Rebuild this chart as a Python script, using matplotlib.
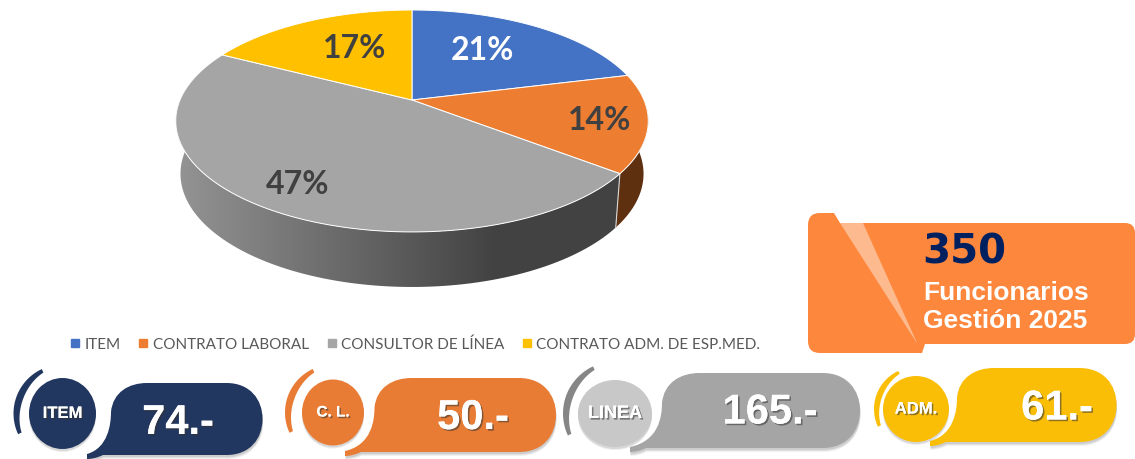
import numpy as np
import matplotlib
matplotlib.use("Agg")
import matplotlib.pyplot as plt
import matplotlib.patheffects as pe
from matplotlib.colors import LinearSegmentedColormap
from matplotlib.lines import Line2D
from matplotlib.path import Path
from matplotlib.patches import PathPatch, Polygon, Ellipse
from matplotlib.transforms import Affine2D

categories = ["ITEM", "CONTRATO LABORAL", "CONSULTOR DE LÍNEA",
              "CONTRATO ADM. DE ESP.MED."]
counts = [74, 50, 165, 61]
pie_colors = ["#4472c4", "#ed7d31", "#a5a5a5", "#ffc000"]
badge_names = ["ITEM", "C. L.", "LINEA", "ADM."]
title_number = "350"
title_lines = ["Funcionarios", "Gestión 2025"]

WIDTH, HEIGHT = 1135, 459
HEAD = "Liberation Sans"
BODY = "Lato"

# pie perspective, in pixels
CX, CY = 412, 100
RX, RY, PERSP = 232, 107, 0.189


def rim(turn):
    """Point of the pie top for a clockwise turn from 12 o'clock (radians)."""
    p = 1 / (1 + PERSP * np.cos(turn))
    return CX + RX * np.sin(turn) * p, CY - RY * np.cos(turn) * p


def lower(x, y):
    return CX + 0.98 * (x - CX), CY + 1.02 * (y - CY) + 52.4


def wall_outline(t0, t1):
    t = np.linspace(t0, t1, 120)
    x, y = rim(t)
    xb, yb = lower(x, y)
    return np.r_[x, xb[::-1]], np.r_[y, yb[::-1]]


def draw_pie(ax):
    edges = 2 * np.pi * np.cumsum([0] + counts) / sum(counts)

    # side of the orange slice
    x, y = wall_outline(np.pi / 2, edges[2])
    ax.fill(x, y, color="#5f3010", lw=0)

    # side of the grey slice, dark to the right
    x, y = wall_outline(edges[2], edges[3])
    wall = Polygon(np.c_[x, y], closed=True, transform=ax.transData,
                   fc="none", ec="none")
    ax.add_patch(wall)
    cmap = LinearSegmentedColormap.from_list(
        "wall", ["#949494", "#424242", "#424242"])
    im = ax.imshow(np.linspace(0, 1, 256)[None, :], cmap=cmap, aspect="auto",
                   extent=(176, 648 + 170, 290, 90), zorder=1)
    im.set_clip_path(wall)

    x0, y0 = rim(edges[2])
    x1, y1 = lower(x0, y0)
    ax.plot([x0, x1], [y0, y1], color="#d8d8d8", lw=0.8, zorder=2)

    for i in range(len(counts)):
        t = np.linspace(edges[i], edges[i + 1], 120)
        x, y = rim(t)
        ax.fill(np.r_[CX, x], np.r_[CY, y], fc=pie_colors[i], ec="white",
                lw=0.7, zorder=3)


def draw_pie_labels(ax):
    spots = [(482, 50), (600, 120), (298, 184), (355, 48)]
    total = sum(counts)
    for i, (x, y) in enumerate(spots):
        ax.text(x, y, f"{round(100 * counts[i] / total)}%", ha="center",
                va="center", fontsize=23, fontweight="bold", family=BODY,
                color="white" if i == 0 else "#404040", zorder=4)


def pill_path(x0, x1, y0, y1, tail_x):
    r = (y1 - y0) * 0.5
    verts = [
        (tail_x, y1 - 1),
        (x0 - 3, y1 - 7), (x0, y0 + r * 1.15), (x0, y0 + r * 0.8),
        (x0 + 2, y0 + r * 0.25), (x0 + r * 0.5, y0), (x0 + r, y0),
        (x1 - r, y0),
        (x1 - r * 0.35, y0), (x1, y0 + r * 0.45), (x1, y0 + r),
        (x1, y1 - r * 0.45), (x1 - r * 0.35, y1), (x1 - r, y1),
        (tail_x + 16, y1),
        (tail_x + 10, y1 + 3), (tail_x + 4, y1 + 4), (tail_x, y1 + 4),
        (tail_x, y1 - 1),
    ]
    codes = [Path.MOVETO,
             Path.CURVE4, Path.CURVE4, Path.CURVE4,
             Path.CURVE4, Path.CURVE4, Path.CURVE4,
             Path.LINETO,
             Path.CURVE4, Path.CURVE4, Path.CURVE4,
             Path.CURVE4, Path.CURVE4, Path.CURVE4,
             Path.LINETO,
             Path.CURVE4, Path.CURVE4, Path.CURVE4,
             Path.CLOSEPOLY]
    return Path(verts, codes)


def draw_badge(ax, name, value, color, pill, circle, arc, value_pos,
               circle_color=None, arc_color=None, name_fs=12):
    x0, x1, y0, y1, tail_x = pill
    path = pill_path(x0, x1, y0, y1, tail_x)

    # soft shadow under the pill
    for off, alpha in ((4, 0.08), (3, 0.1), (2, 0.14)):
        ax.add_patch(PathPatch(path.transformed(
            Affine2D().translate(0.5, off)),
            fc="#555555", ec="none", alpha=alpha, zorder=5))
    ax.add_patch(PathPatch(path, fc=color, ec="none", zorder=6))

    cx, cy, rx, ry = circle
    for off, alpha in ((3, 0.1), (2, 0.14)):
        ax.add_patch(Ellipse((cx, cy + off), 2 * rx, 2 * ry, fc="#555555",
                             ec="none", alpha=alpha, zorder=6.5))
    ax.add_patch(Ellipse((cx, cy), 2 * rx, 2 * ry,
                         fc=circle_color or color, ec="none", zorder=7))

    # crescent on the left of the circle, thinner at its ends
    r_out, thick = arc
    t = np.radians(np.linspace(115, 205, 60))
    w = thick * (0.55 + 0.45 * np.sin((t - t[0]) / (t[-1] - t[0]) * np.pi))
    xo, yo = cx + r_out * np.cos(t), cy - r_out * np.sin(t)
    xi, yi = cx + (r_out - w) * np.cos(t), cy - (r_out - w) * np.sin(t)
    ax.fill(np.r_[xo, xi[::-1]], np.r_[yo, yi[::-1]], fc=arc_color or color,
            ec="none", zorder=7)

    shadow = [pe.withSimplePatchShadow(offset=(1.2, -1.2),
                                       shadow_rgbFace="#333333", alpha=0.55),
              pe.Normal()]
    ax.text(cx, cy, name, ha="center", va="center", color="white",
            fontsize=name_fs, fontweight="bold", family=HEAD, zorder=8,
            path_effects=shadow)
    ax.text(value_pos[0], value_pos[1], f"{value}.-", ha="center",
            va="center", color="white", fontsize=30, fontweight="bold",
            family=HEAD, zorder=8, path_effects=shadow)


def rounded_polygon(points):
    """points are (x, y, corner radius)."""
    verts, codes = [], []
    n = len(points)
    for i, (x, y, r) in enumerate(points):
        if r == 0:
            verts.append((x, y))
            codes.append(Path.MOVETO if i == 0 else Path.LINETO)
            continue
        p = np.array([x, y], dtype=float)
        prev = np.array(points[i - 1][:2], dtype=float)
        nxt = np.array(points[(i + 1) % n][:2], dtype=float)
        a = p + (prev - p) / np.linalg.norm(prev - p) * r
        b = p + (nxt - p) / np.linalg.norm(nxt - p) * r
        verts += [tuple(a), (x, y), tuple(b)]
        codes += [Path.MOVETO if i == 0 else Path.LINETO,
                  Path.CURVE3, Path.CURVE3]
    verts.append(verts[0])
    codes.append(Path.CLOSEPOLY)
    return Path(verts, codes)


def draw_callout(ax):
    outline = [(808, 213, 12), (834, 213, 0), (840, 223, 0), (1135, 223, 10),
               (1135, 344, 10), (925, 344, 0), (922, 353, 0), (808, 353, 12)]
    ax.add_patch(PathPatch(rounded_polygon(outline), fc="#fd873d", ec="none",
                           zorder=5))
    ax.add_patch(Polygon([(840, 223), (863, 223), (917.5, 344)], closed=True,
                         fc="#fdba8e", ec="none", zorder=6))
    ax.text(922, 253, title_number, color="#002060", fontsize=29,
            fontweight="bold", family="DejaVu Sans", va="center", zorder=7)
    ax.text(923, 293, title_lines[0], color="white", fontsize=19,
            fontweight="bold", family=HEAD, va="center", zorder=7)
    ax.text(923, 321, title_lines[1], color="white", fontsize=19,
            fontweight="bold", family=HEAD, va="center", zorder=7)


def draw_legend(ax):
    handles = [Line2D([], [], ls="none", marker="s", ms=5.2, color=c,
                      label=name)
               for name, c in zip(categories, pie_colors)]
    ax.legend(handles=handles, ncol=4, loc="center",
              bbox_to_anchor=(415.5 / WIDTH, 1 - 344.5 / HEIGHT),
              frameon=False, handlelength=0.6, handletextpad=0.3,
              columnspacing=1.2, borderpad=0,
              prop={"family": BODY, "size": 11}, labelcolor="#595959")


def main():
    fig = plt.figure(figsize=(WIDTH / 100, HEIGHT / 100), dpi=100)
    ax = fig.add_axes([0, 0, 1, 1])

    draw_pie(ax)
    draw_pie_labels(ax)
    draw_legend(ax)
    draw_callout(ax)

    draw_badge(ax, badge_names[0], counts[0], "#223760",
               (111, 262.5, 383, 455, 87), (62.5, 413.5, 33.5, 35.5), (49, 7),
               (178, 423))
    draw_badge(ax, badge_names[1], counts[1], "#e97c35",
               (374.5, 556, 378, 452, 345), (333, 412.5, 31, 33), (48, 7),
               (473, 418), name_fs=11)
    draw_badge(ax, badge_names[2], counts[2], "#a5a5a5",
               (662, 860, 373, 448, 630), (615, 413.5, 37, 33.5), (52, 7),
               (770, 412.5), circle_color="#c8c8c8", arc_color="#868686",
               name_fs=13)
    draw_badge(ax, badge_names[3], counts[3], "#fbbe07",
               (957, 1116.5, 368, 442, 930), (916, 409, 33, 33), (42, 6),
               (1057, 408.5))

    ax.set_xlim(0, WIDTH)
    ax.set_ylim(HEIGHT, 0)
    ax.axis("off")
    fig.savefig("out.png", dpi=100)


if __name__ == "__main__":
    main()
